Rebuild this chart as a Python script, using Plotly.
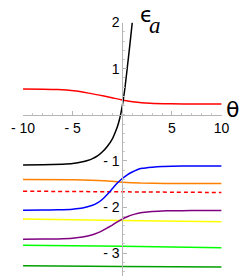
import plotly.graph_objects as go

# ---- data ----
theta_black = [-10, -8, -6, -5, -4, -3.5, -3, -2.5, -2, -1.5, -1, -0.75, -0.5, -0.25, 0, 0.25, 0.5, 0.75, 1.0]
eps_black = [-1.09, -1.085, -1.07, -1.055, -1.02, -0.99, -0.95, -0.89, -0.80, -0.68, -0.52, -0.40, -0.26, -0.07, 0.20, 0.56, 1.02, 1.50, 2.0]

theta_red = [-10, -8, -6.5, -4.9, -3.4, -1.85, -0.93, 0, 1.23, 2.8, 4.9, 7.4, 10]
eps_red = [0.562, 0.557, 0.547, 0.52, 0.47, 0.406, 0.364, 0.322, 0.28, 0.253, 0.238, 0.232, 0.232]

theta_blue = [-10, -8, -6.5, -5, -4, -3, -2.5, -2, -1.5, -1, -0.5, 0, 0.5, 1, 1.5, 2, 3, 4, 5, 7, 10]
eps_blue = [-2.07, -2.066, -2.06, -2.045, -2.02, -1.96, -1.91, -1.83, -1.72, -1.60, -1.48, -1.38, -1.30, -1.24, -1.19, -1.16, -1.135, -1.12, -1.115, -1.11, -1.11]

theta_orange = [-10, -4.9, -1.85, 0, 1.85, 4.3, 10]
eps_orange = [-1.404, -1.41, -1.43, -1.46, -1.48, -1.49, -1.49]

theta_reddash = [-10, 0, 10]
eps_reddash = [-1.656, -1.67, -1.684]

theta_purple = [-10, -8, -6.5, -5, -4, -3, -2.5, -2, -1.5, -1, -0.5, 0, 0.5, 1, 1.5, 2, 3, 4, 5, 7, 10]
eps_purple = [-2.70, -2.695, -2.69, -2.675, -2.65, -2.60, -2.56, -2.51, -2.45, -2.39, -2.32, -2.26, -2.21, -2.17, -2.14, -2.12, -2.095, -2.085, -2.08, -2.077, -2.075]

theta_yellow = [-10, 0, 10]
eps_yellow = [-2.26, -2.29, -2.316]

theta_lime = [-10, 0, 10]
eps_lime = [-2.83, -2.85, -2.88]

theta_dkgreen = [-10, 0, 10]
eps_dkgreen = [-3.27, -3.29, -3.30]

x_tickvals = [-10, -5, 5, 10]
x_ticktext = ["-\u00a010", "-\u00a05", "5", "10"]
y_tickvals = [-3, -2, -1, 1, 2]
y_ticktext = ["-\u00a03", "-\u00a02", "-\u00a01", "1", "2"]

# ---- figure ----
W, H = 248, 276
fig = go.Figure()

def add(x, y, color, dash="solid", width=1.5):
    fig.add_trace(go.Scatter(x=x, y=y, mode="lines",
                             line=dict(color=color, width=width, dash=dash, shape="spline", smoothing=0.6),
                             hoverinfo="skip", showlegend=False))

add(theta_dkgreen, eps_dkgreen, "#00a000")
add(theta_lime, eps_lime, "#00ff00")
add(theta_yellow, eps_yellow, "#ffff00")
add(theta_purple, eps_purple, "#800080")
add(theta_reddash, eps_reddash, "#ff0000", dash="4px,3px")
add(theta_orange, eps_orange, "#ff8000")
add(theta_blue, eps_blue, "#0000ff")
add(theta_red, eps_red, "#ff0000")
add(theta_black, eps_black, "#000000")

px0_x, px1_x = 12, 228          # pixel x of theta=-10, 10
py_zero, py_per = 110, 47.5       # pixel y of eps=0, pixels per unit
y_bottom = (py_zero - H) / py_per
y_top = 2.0
py_top = py_zero - y_top * py_per

font = dict(family="Liberation Sans, Arial, sans-serif", size=14, color="black")

fig.update_layout(
    width=W, height=H,
    margin=dict(l=0, r=0, t=0, b=0),
    paper_bgcolor="white", plot_bgcolor="white",
    xaxis=dict(domain=[px0_x / W, px1_x / W], range=[-10, 10],
               anchor="free", position=(H - py_zero) / H,
               showgrid=False, zeroline=False, showline=True, linecolor="#b5b5b5", linewidth=1,
               tickmode="array", tickvals=x_tickvals, ticktext=x_ticktext,
               ticks="inside", ticklen=4, tickcolor="#b5b5b5", tickfont=font,
               ticklabeloverflow="allow",
               minor=dict(ticks="inside", tick0=0, dtick=1, ticklen=2, tickcolor="#c8c8c8"),
               fixedrange=True),
    yaxis=dict(domain=[0, (H - py_top) / H], range=[y_bottom, y_top],
               anchor="free", position=120 / W,
               showgrid=False, zeroline=False, showline=True, linecolor="#b5b5b5", linewidth=1,
               tickmode="array", tickvals=y_tickvals, ticktext=y_ticktext,
               ticks="inside", ticklen=4, tickcolor="#b5b5b5", tickfont=font,
               ticklabeloverflow="allow",
               minor=dict(ticks="inside", tick0=0, dtick=0.2, ticklen=2, tickcolor="#c8c8c8"),
               fixedrange=True),
    annotations=[
        dict(text="θ", xref="paper", yref="paper", x=240 / W, y=(H - 105) / H,
             xanchor="center", yanchor="middle", showarrow=False, borderpad=0,
             font=dict(family="DejaVu Sans, sans-serif", size=22, color="black")),
        dict(text="ϵ", xref="paper", yref="paper", x=146 / W, y=(H - 7) / H,
             xanchor="center", yanchor="middle", showarrow=False, borderpad=0,
             font=dict(family="DejaVu Sans, sans-serif", size=21, color="black")),
        dict(text="<i>a</i>", xref="paper", yref="paper", x=155 / W, y=(H - 18) / H,
             xanchor="center", yanchor="middle", showarrow=False, borderpad=0,
             font=dict(family="Liberation Serif, serif", size=23, color="black")),
    ],
)

fig.write_html("out.html", config={"displayModeBar": False},
               post_script="document.body.style.margin='0';document.body.style.overflow='hidden';")
